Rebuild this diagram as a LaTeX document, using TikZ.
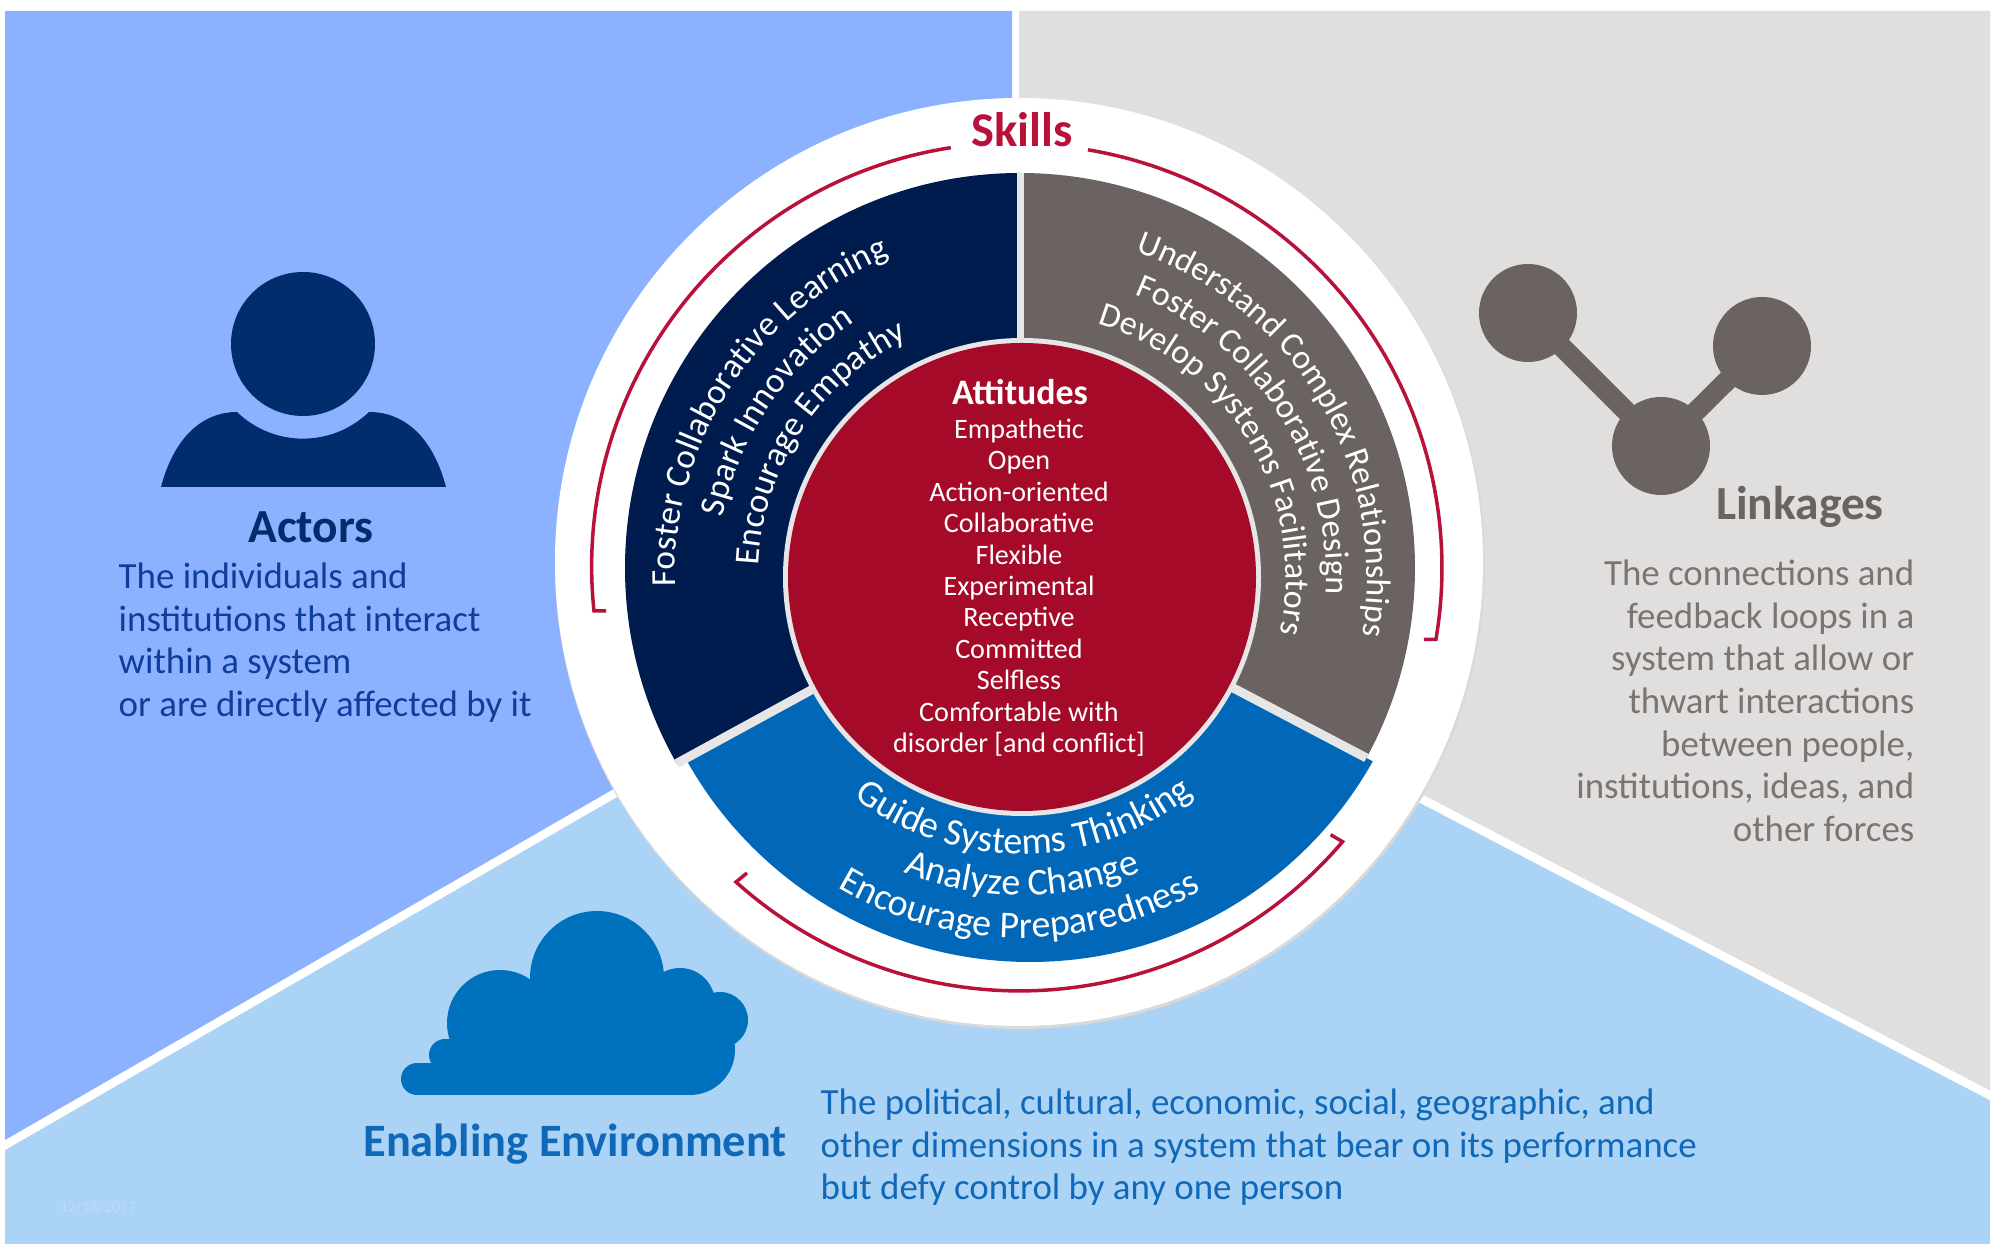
\documentclass[tikz,border=0pt]{standalone}
\usepackage{fontspec}
\setmainfont{Carlito}
\usetikzlibrary{%
  decorations.text,%
}
\definecolor{actorpanel}{HTML}{8CB2FF}
\definecolor{linkpanel}{HTML}{E0DFDD}
\definecolor{envpanel}{HTML}{ABD3F5}
\definecolor{actornavy}{HTML}{002D6D}
\definecolor{actortext}{HTML}{0F3D9C}
\definecolor{wedgenavy}{HTML}{001C4E}
\definecolor{wedgegrey}{HTML}{6A6361}
\definecolor{wedgeblue}{HTML}{0067B9}
\definecolor{attitudered}{HTML}{A50A28}
\definecolor{skillred}{HTML}{B8123A}
\definecolor{rimgrey}{HTML}{E6E6E6}
\definecolor{cloudblue}{HTML}{0071BC}
\definecolor{envtext}{HTML}{1068B8}
\definecolor{linktext}{HTML}{7A7573}
\definecolor{datetext}{HTML}{BBDCF7}
\newcommand{\navyfont}{\fontsize{10}{12}\selectfont\color{white}}
\newcommand{\greyfont}{\fontsize{9.7}{12}\selectfont\color{white}}
\newcommand{\bluefont}{\fontsize{10.8}{12}\selectfont\color{white}}
\tikzset{
  paneltitle/.style={font=\fontsize{13.5}{15}\selectfont\bfseries, inner sep=0pt, anchor=base},
  paneltext/.style={font=\fontsize{10.5}{12.15}\selectfont, inner sep=0pt, anchor=north west, align=left},
  ringtext/.style={decorate, decoration={text along path, text align=center}},
  linkdot/.style={circle, fill=wedgegrey, minimum size=0.98cm, inner sep=0pt},
  bracket/.style={draw=skillred, line width=0.035cm},
}

\begin{document}
\begin{tikzpicture}

      \useasboundingbox (0, 0) rectangle (20.05, 12.44);
      \fill [white] (0, 0) rectangle (20.05, 12.44);

      \fill [envpanel] (0.05, 0) rectangle (19.9, 6.8);
      \fill [actorpanel] (0.05, 12.33) -- (10.12, 12.33) -- (10.12, 6.82) -- (0.05, 0.99) -- cycle;
      \fill [linkpanel] (10.19, 12.33) -- (19.9, 12.33) -- (19.9, 1.49) -- (10.19, 6.55) -- cycle;
      \draw [white, line width=0.085cm] (0, 0.96) -- (10.16, 6.82);
      \draw [white, line width=0.085cm] (19.95, 1.46) -- (10.19, 6.55);

      \fill [black!15] (10.2, 6.8) circle (4.65);
      \fill [white] (10.19, 6.82) circle (4.64);

      \coordinate (hub) at (10.2, 6.68);
      \coordinate (hubleft) at (5.75, 4.25);
      \coordinate (hubright) at (14.75, 4.29);
      \begin{scope}
        \clip (10.3, 6.75) circle (3.93);
        \fill [wedgeblue] (hub) -- (hubleft) -- (5.75, 2) -- (14.75, 2) -- (hubright) -- cycle;
      \end{scope}
      \begin{scope}
        \clip (10.2, 6.76) circle (3.95);
        \fill [wedgenavy] (hub) -- (hubleft) -- (5.75, 11.5) -- (10.2, 11.5) -- cycle;
        \fill [wedgegrey] (hub) -- (hubright) -- (14.75, 11.5) -- (10.2, 11.5) -- cycle;
        \draw [rimgrey, line width=0.09cm] (hub) -- (hubleft);
        \draw [rimgrey, line width=0.09cm] (hub) -- (hubright);
        \draw [rimgrey, line width=0.07cm] (hub) -- (10.2, 11.5);
      \end{scope}

      \fill [rimgrey] (10.22, 6.67) circle (2.39);
      \fill [attitudered] (10.22, 6.67) circle (2.34);

      \path [ringtext, decoration={text={|\navyfont|Foster Collaborative Learning}}]
        ([shift={(187:3.47)}]10.22, 6.67) arc (187:107:3.47);
      \path [ringtext, decoration={text={|\navyfont|Spark Innovation}}]
        ([shift={(175:3.05)}]10.22, 6.67) arc (175:117:3.05);
      \path [ringtext, decoration={text={|\navyfont|Encourage Empathy}}]
        ([shift={(185:2.64)}]10.22, 6.67) arc (185:108:2.64);

      \path [ringtext, decoration={text={|\greyfont|Understand Complex Relationships}}]
        ([shift={(76.5:3.45)}]10.22, 6.67) arc (76.5:-15.5:3.45);
      \path [ringtext, decoration={text={|\greyfont|Foster Collaborative Design}}]
        ([shift={(74:3.04)}]10.22, 6.67) arc (74:-9:3.04);
      \path [ringtext, decoration={text={|\greyfont|Develop Systems Facilitators}}]
        ([shift={(80:2.64)}]10.22, 6.67) arc (80:-19:2.64);

      \path [ringtext, decoration={text={|\bluefont|Guide Systems Thinking}}]
        ([shift={(225:2.77)}]10.22, 6.67) arc (225:316:2.77);
      \path [ringtext, decoration={text={|\bluefont|Analyze Change}}]
        ([shift={(242:3.18)}]10.22, 6.67) arc (242:298:3.18);
      \path [ringtext, decoration={text={|\bluefont|Encourage Preparedness}}]
        ([shift={(233:3.61)}]10.22, 6.67) arc (233:306:3.61);

      \draw (10.2, 8.39) node [anchor=base, inner sep=0pt, text=white, font=\fontsize{10.2}{10}\selectfont\bfseries] (attitudes) {Attitudes};
      \draw (10.19, 8.26) node [anchor=north, inner sep=0pt, text=white, align=center, font=\fontsize{8}{8.95}\selectfont] (attitudelist) {Empathetic\\Open\\Action-oriented\\Collaborative\\Flexible\\Experimental\\Receptive\\Committed\\Selfless\\Comfortable with\\disorder [and conflict]};

      \draw [bracket] (6.06, 6.33) -- ++(-0.12, 0) arc (186:98.8:4.24);
      \draw [bracket] ([shift={(80.5:4.24)}]10.18, 6.76) arc (80.5:-9.7:4.24) -- ++(-0.12, 0);
      \draw [bracket] (7.47, 3.71) -- ++(-0.11, -0.09) arc (228:319.6:4.24) -- ++(-0.12, 0.07);

      \draw (10.22, 10.97) node [anchor=base, inner sep=0pt, text=skillred, font=\fontsize{13.8}{15}\selectfont\bfseries] (skills) {Skills};

      \fill [actornavy] (3.03, 9) circle (0.72);
      \fill [actornavy] (1.61, 7.57) .. controls (1.75, 8.1) and (2.05, 8.32) .. (2.37, 8.32) arc (226:314:0.95) .. controls (4.02, 8.32) and (4.32, 8.1) .. (4.46, 7.57) -- cycle;
      \draw (3.11, 7.01) node [paneltitle, text=actornavy] (actorstitle) {Actors};
      \draw (1.18, 6.82) node [paneltext, text=actortext] (actorstext) {The individuals and\\institutions that interact\\within a system\\or are directly affected by it};

      \fill [cloudblue] (4.17, 1.65) circle (0.16);
      \fill [cloudblue] (4.45, 1.89) circle (0.16);
      \fill [cloudblue] (5, 2.21) circle (0.53);
      \fill [cloudblue] (5.97, 2.66) circle (0.67);
      \fill [cloudblue] (6.8, 2.41) circle (0.35);
      \fill [cloudblue] (7.2, 2.24) circle (0.28);
      \fill [cloudblue] (6.9, 1.94) circle (0.45);
      \fill [cloudblue] (4.17, 1.49) rectangle (4.45, 1.81);
      \fill [cloudblue] (4.45, 1.49) rectangle (5, 2.05);
      \fill [cloudblue] (5, 1.49) rectangle (6.9, 2.6);
      \draw (5.75, 0.87) node [paneltitle, font=\fontsize{13.2}{15}\selectfont\bfseries, text=envtext] (envtitle) {Enabling Environment};
      \draw (8.2, 1.56) node [paneltext, text=envtext] (envtext) {The political, cultural, economic, social, geographic, and\\other dimensions in a system that bear on its performance\\but defy control by any one person};
      \draw (0.98, 0.37) node [inner sep=0pt, text=datetext, font=\fontsize{4.5}{5}\selectfont] (envdate) {12/18/2017};

      \draw (15.28, 9.31) node [linkdot] (linkleft) {};
      \draw (17.62, 8.98) node [linkdot] (linkright) {};
      \draw (16.61, 7.98) node [linkdot] (linkmid) {};
      \draw [wedgegrey, line width=0.2cm] (linkleft.center) -- (linkmid.center) -- (linkright.center);
      \draw (18, 7.24) node [paneltitle, text=wedgegrey] (linkstitle) {Linkages};
      \draw (19.15, 6.85) node [paneltext, anchor=north east, align=right, text=linktext] (linkstext) {The connections and\\feedback loops in a\\system that allow or\\thwart interactions\\between people,\\institutions, ideas, and\\other forces};

\end{tikzpicture}
\end{document}
